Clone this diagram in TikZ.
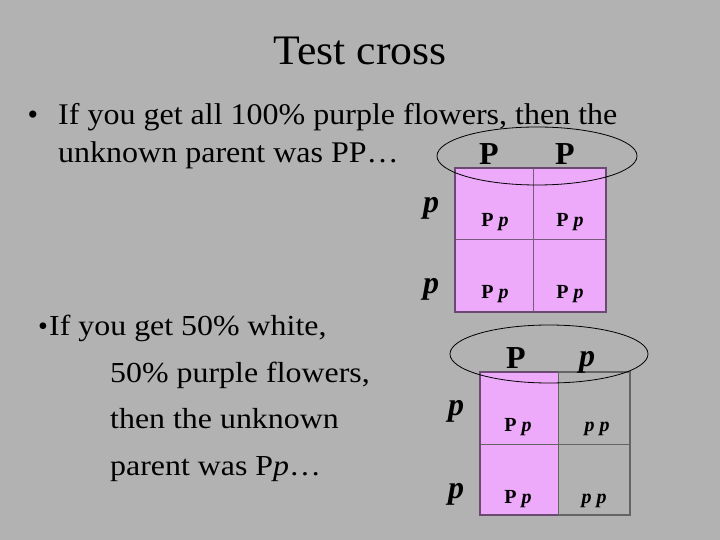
\documentclass[tikz,border=0pt]{standalone}
\usepackage{fontspec}
\setmainfont{Liberation Serif}
\definecolor{bg}{RGB}{178,178,178}
\definecolor{pink}{RGB}{238,170,250}
\definecolor{sqborder}{RGB}{106,74,112}
\definecolor{sqline}{RGB}{120,90,125}
\definecolor{grayline}{RGB}{100,100,100}
\begin{document}
\begin{tikzpicture}[x=1pt,y=-1pt,
  txt/.style={inner sep=0pt,anchor=base west,xscale=1.067,font=\fontsize{30}{36}\selectfont},
  txtb/.style={inner sep=0pt,anchor=base west,xscale=1.1,font=\fontsize{29}{34}\selectfont},
  hdr/.style={inner sep=0pt,anchor=base,font=\fontsize{32}{38}\selectfont\bfseries},
  hdri/.style={hdr,font=\fontsize{32}{38}\selectfont\bfseries\itshape},
  cell/.style={inner sep=0pt,anchor=base,font=\fontsize{20}{24}\selectfont\bfseries},
  oval/.style={draw=black,line width=0.8pt}]
\fill[bg] (0,0) rectangle (720,540);
\useasboundingbox (0,0) rectangle (720,540);
% title
\node[inner sep=0pt,anchor=base,xscale=1.04,font=\fontsize{42}{50}\selectfont] (title) at (360,65) {Test cross};
% bullet 1
\node[inner sep=0pt,anchor=base,font=\fontsize{30}{36}\selectfont] (b1) at (33,125) {•};
\node[txt] (l1) at (58,125) {If you get all 100\% purple flowers, then the};
\node[txt] (l2) at (58,163) {unknown parent was PP…};
% bullet 2
\node[inner sep=0pt,anchor=base,font=\fontsize{28}{32}\selectfont] (b2) at (43,335) {•};
\node[txtb] (m1) at (49,335) {If you get 50\% white,};
\node[txtb] (m2) at (110,382) {50\% purple flowers,};
\node[txtb] (m3) at (110,428) {then the unknown};
\node[txtb] (m4) at (110,475) {parent was P\textit{p}…};
% square 1
\fill[pink] (455,168) rectangle (606,312);
\draw[sqline,line width=1pt] (533,168) -- (533,312) (455,239) -- (606,239);
\draw[sqborder,line width=1.5pt] (455,168) rectangle (606,312);
\draw[oval] (537,156) ellipse [x radius=100,y radius=29];
\node[hdr] (h1) at (489,165) {P};
\node[hdr] (h2) at (565,165) {P};
\node[hdri] (r1) at (431,212) {p};
\node[hdri] (r2) at (431,293) {p};
\node[cell] (c11) at (495,226) {P \textit{p}};
\node[cell] (c12) at (570,226) {P \textit{p}};
\node[cell] (c21) at (495,298) {P \textit{p}};
\node[cell] (c22) at (570,298) {P \textit{p}};
% square 2
\fill[pink] (480,372) rectangle (558,515);
\draw[grayline,line width=1pt] (558,372) -- (558,515) (480,444) -- (630,444);
\draw[grayline,line width=1.5pt] (558,372) -- (630,372) -- (630,515) -- (558,515);
\draw[sqborder,line width=1.5pt] (558,372) -- (480,372) -- (480,515) -- (558,515);
\draw[oval] (549,354) ellipse [x radius=99,y radius=29];
\node[hdr] (h3) at (516,368) {P};
\node[hdri] (h4) at (587,366) {p};
\node[hdri] (r3) at (456,415) {p};
\node[hdri] (r4) at (456,498) {p};
\node[cell] (d11) at (518,431) {P \textit{p}};
\node[cell] (d12) at (597,431) {\textit{p p}};
\node[cell] (d21) at (518,503) {P \textit{p}};
\node[cell] (d22) at (594,503) {\textit{p p}};
\end{tikzpicture}
\end{document}
